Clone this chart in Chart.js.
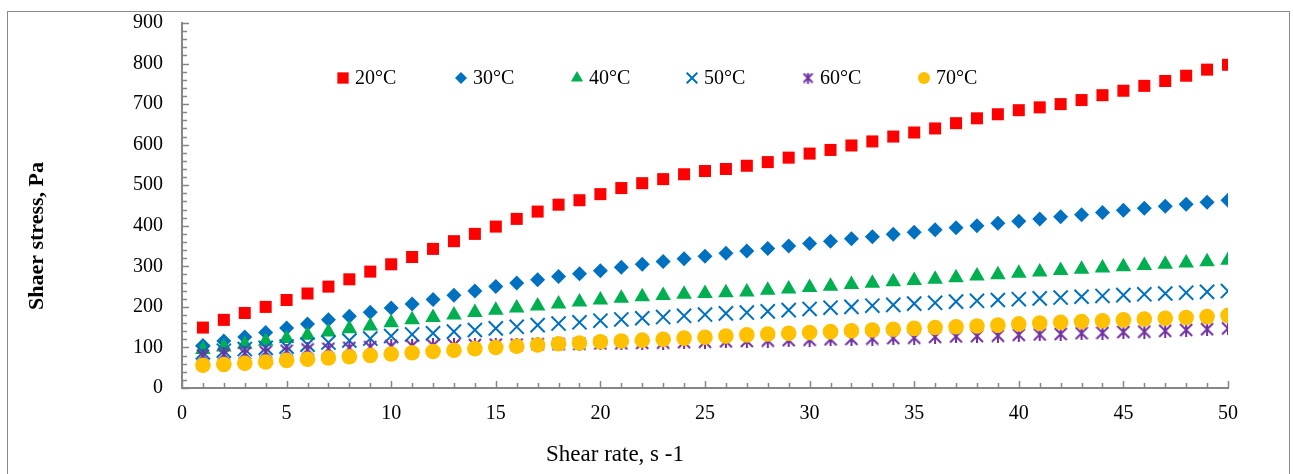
<!DOCTYPE html>
<html>
<head>
<meta charset="utf-8">
<script src="https://cdn.jsdelivr.net/npm/chart.js@4.4.1/dist/chart.umd.min.js"></script>
<style>
  html, body { margin: 0; padding: 0; background: #fff; }
  #wrap { position: relative; width: 1293px; height: 474px; overflow: hidden; }
  #frame { position: absolute; left: 7px; top: 11px; width: 1283px; height: 480px; border: 1px solid #8a8a8a; box-sizing: border-box; }
  #c { position: absolute; left: 0; top: 0; }
</style>
</head>
<body>
<div id="wrap">
  <div id="frame"></div>
  <canvas id="c" width="1293" height="474"></canvas>
</div>
<script>
const shearRate = [1, 2, 3, 4, 5, 6, 7, 8, 9, 10, 11, 12, 13, 14, 15, 16, 17, 18, 19, 20,
  21, 22, 23, 24, 25, 26, 27, 28, 29, 30, 31, 32, 33, 34, 35, 36, 37, 38, 39, 40,
  41, 42, 43, 44, 45, 46, 47, 48, 49, 50];

const stress20 = [149, 168, 185, 200, 217, 233, 250, 268, 287, 305, 323, 343, 362, 380, 398, 417, 435, 452, 463, 478,
  493, 505, 515, 527, 535, 540, 548, 557, 568, 578, 587, 598, 608, 620, 630, 640, 653, 665, 675, 685,
  692, 700, 710, 722, 733, 745, 757, 770, 785, 797];
const stress30 = [105, 116, 126, 137, 148, 158, 168, 177, 187, 197, 207, 218, 229, 239, 250, 259, 267, 275, 282, 289,
  298, 305, 312, 319, 325, 332, 338, 344, 350, 356, 362, 368, 373, 379, 384, 390, 395, 400, 406, 411,
  417, 422, 427, 433, 438, 443, 448, 453, 458, 463];
const stress40 = [95, 101, 108, 115, 122, 130, 138, 146, 153, 161, 168, 174, 180, 186, 192, 197, 202, 207, 212, 217,
  221, 225, 228, 231, 233, 235, 237, 241, 244, 248, 251, 255, 258, 262, 265, 268, 272, 276, 279, 283,
  286, 290, 293, 296, 299, 302, 305, 308, 311, 315];
const stress50 = [88, 92, 96, 99, 102, 107, 112, 117, 122, 128, 132, 135, 139, 143, 147, 151, 155, 159, 162, 166,
  169, 172, 175, 178, 181, 184, 186, 189, 192, 195, 198, 200, 203, 205, 208, 210, 213, 215, 217, 219,
  221, 223, 225, 227, 229, 231, 233, 235, 237, 239];
const stress60 = [80, 83, 86, 89, 92, 95, 97, 99, 101, 103, 104, 105, 106, 106, 107, 107, 108, 108, 109, 110,
  110, 111, 112, 113, 114, 115, 116, 117, 118, 119, 120, 121, 122, 123, 124, 126, 127, 128, 129, 131,
  132, 133, 135, 136, 138, 139, 141, 143, 145, 147];
const stress70 = [56, 58, 61, 64, 68, 71, 74, 77, 80, 84, 87, 90, 93, 97, 100, 103, 106, 109, 111, 114,
  116, 118, 120, 123, 125, 128, 131, 133, 135, 137, 139, 141, 143, 145, 147, 149, 151, 153, 155, 158,
  160, 162, 164, 166, 168, 170, 172, 174, 176, 179];

const seriesLabels = ["20°C", "30°C", "40°C", "50°C", "60°C", "70°C"];
const xTitle = "Shear rate, s -1";
const yTitle = "Shaer stress, Pa";

const SERIF = "'Liberation Serif', 'Times New Roman', serif";
const AXIS_GREY = "#868686";

// Excel-style asterisk: an x with a vertical bar
function makeStar(size, color, lw) {
  const cv = document.createElement("canvas");
  cv.width = size;
  cv.height = size;
  const g = cv.getContext("2d");
  g.strokeStyle = color;
  g.lineWidth = lw;
  const m = size / 2, d = size / 2 - 1;
  g.beginPath();
  g.moveTo(m - d, m - d); g.lineTo(m + d, m + d);
  g.moveTo(m + d, m - d); g.lineTo(m - d, m + d);
  g.moveTo(m, 0); g.lineTo(m, size);
  g.stroke();
  return cv;
}

const pts = (ys) => shearRate.map((x, i) => ({ x, y: ys[i] }));

const styles = [
  { color: "#ff0000", pointStyle: "rect", radius: 8.5, legendRadius: 8, border: 0 },
  { color: "#0070c0", pointStyle: "rectRot", radius: 7.5, legendRadius: 6, border: 0 },
  { color: "#00b050", pointStyle: "triangle", radius: 9, legendRadius: 7, border: 0 },
  { color: "#0070c0", pointStyle: "crossRot", radius: 10, legendRadius: 7.5, border: 2 },
  { color: "#7030a0", pointStyle: makeStar(14, "#7030a0", 2), legendStyle: makeStar(11, "#7030a0", 2), radius: 7, legendRadius: 6, border: 0 },
  { color: "#ffc000", pointStyle: "circle", radius: 7.8, legendRadius: 6, border: 0 },
];
const allStress = [stress20, stress30, stress40, stress50, stress60, stress70];

const datasets = allStress.map((ys, i) => ({
  label: seriesLabels[i],
  data: pts(ys),
  pointStyle: styles[i].pointStyle,
  pointRadius: styles[i].radius,
  pointBackgroundColor: styles[i].color,
  pointBorderColor: styles[i].color,
  pointBorderWidth: styles[i].border,
  order: allStress.length - 1 - i,
}));

const decor = {
  id: "decor",
  afterDraw(chart) {
    const { ctx, scales: { x, y } } = chart;
    ctx.save();

    // inside tick marks
    ctx.strokeStyle = AXIS_GREY;
    ctx.lineWidth = 1.5;
    ctx.beginPath();
    for (let v = 0; v <= 50; v += 1) {
      const px = Math.round(x.getPixelForValue(v)) + 0.5;
      const len = v % 5 === 0 ? 7 : 5;
      ctx.moveTo(px, y.bottom);
      ctx.lineTo(px, y.bottom - len);
    }
    for (let v = 0; v <= 900; v += 20) {
      const py = Math.round(y.getPixelForValue(v)) + 0.5;
      const len = v % 100 === 0 ? 7 : 5;
      ctx.moveTo(x.left, py);
      ctx.lineTo(x.left + len, py);
    }
    ctx.stroke();

    // legend inside the plot
    const legendX = [343, 461, 577, 692, 808, 924];
    const legendY = 78;
    ctx.font = "20px " + SERIF;
    ctx.textBaseline = "middle";
    ctx.textAlign = "left";
    chart.data.datasets.forEach((ds, i) => {
      const s = styles[i];
      ctx.fillStyle = s.color;
      ctx.strokeStyle = s.color;
      ctx.lineWidth = s.border || 1;
      Chart.helpers.drawPoint(ctx, {
        pointStyle: s.legendStyle || s.pointStyle,
        radius: s.legendRadius,
        rotation: 0,
        borderWidth: s.border,
      }, legendX[i], legendY);
      ctx.fillStyle = "#000";
      ctx.fillText(ds.label, legendX[i] + 12, legendY + 1);
    });

    // axis titles
    ctx.fillStyle = "#000";
    ctx.textAlign = "center";
    ctx.font = "23px " + SERIF;
    ctx.fillText(xTitle, 615, 455);
    ctx.translate(37, 236);
    ctx.rotate(-Math.PI / 2);
    ctx.font = "bold 22px " + SERIF;
    ctx.fillText(yTitle, 0, 0);
    ctx.restore();
  },
};

new Chart(document.getElementById("c"), {
  type: "scatter",
  data: { datasets },
  options: {
    responsive: false,
    animation: false,
    devicePixelRatio: 1,
    layout: { padding: { top: 23, right: 65, left: 0, bottom: 0 } },
    plugins: { legend: { display: false }, tooltip: { enabled: false } },
    scales: {
      x: {
        type: "linear",
        min: 0,
        max: 50,
        afterFit: (s) => { s.height = 86; },
        grid: { display: false },
        border: { display: true, color: AXIS_GREY, width: 2 },
        ticks: { stepSize: 5, color: "#000", padding: 6, font: { family: SERIF, size: 20 }, maxRotation: 0 },
      },
      y: {
        min: 0,
        max: 900,
        afterFit: (s) => { s.width = 182; },
        grid: { display: false },
        border: { display: true, color: AXIS_GREY, width: 2 },
        ticks: { stepSize: 100, color: "#000", padding: 11, font: { family: SERIF, size: 20 } },
      },
    },
  },
  plugins: [decor],
});
</script>
</body>
</html>
